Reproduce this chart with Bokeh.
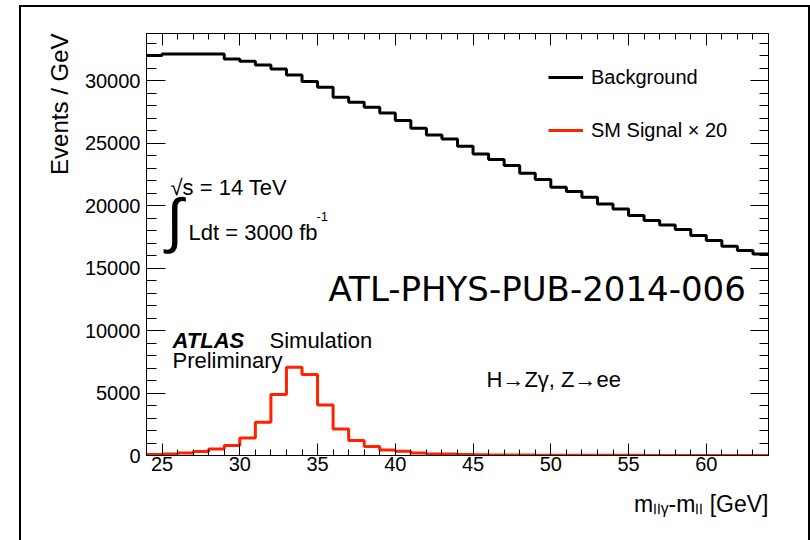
import math
import numpy as np
from bokeh.plotting import figure
from bokeh.models import (Range1d, LinearAxis, FixedTicker, Label, Legend, LegendItem,
                          CustomJSTickFormatter, Title)
from bokeh.embed import file_html
from bokeh.resources import INLINE

# ---------------- data ----------------
bin_edges = np.arange(24, 65, 1)          # 1 GeV bins, 24 .. 64 GeV
background = [32000, 32130, 32130, 32130, 32130, 31730, 31550, 31250, 30930, 30450,
              29920, 29470, 28670, 28270, 27870, 27410, 26800, 26190, 25650, 25330,
              24750, 24130, 23680, 23200, 22590, 22080, 21470, 21120, 20670, 20130,
              19730, 19200, 18800, 18450, 18080, 17600, 17200, 16750, 16400, 16130]
signal_x20 = [80, 130, 210, 320, 530, 800, 1410, 2670, 4880, 7070,
              6480, 4050, 2130, 1200, 720, 450, 350, 210, 130, 120,
              80, 60, 50, 40, 35, 30, 25, 20, 20, 15,
              15, 12, 10, 10, 8, 8, 6, 6, 5, 5]
x_ticks = [25, 30, 35, 40, 45, 50, 55, 60]
y_ticks = [0, 5000, 10000, 15000, 20000, 25000, 30000]
x_minor = list(np.arange(24, 65, 1))
y_minor = list(np.arange(0, 34000, 1000))
legend_labels = ["Background", "SM Signal \u00d7 20"]
x_title = "m\u2097\u2097\u1d67-m\u2097\u2097 [GeV]"
y_title = "Events / GeV"

# ---------------- geometry / style ----------------
FONT = "Liberation Sans"
RED = "#ff2200"
FL, FR, FT, FB = 146, 768, 33, 455      # frame in page pixels
ML, MT = 21, 7                           # figure offset in page
W = 808 - ML
H = 540 - MT

p = figure(width=W, height=H, x_range=Range1d(24, 64), y_range=Range1d(0, 33760),
           output_backend="svg", toolbar_location=None,
           min_border_left=FL - ML, min_border_right=W - (FR - ML),
           min_border_top=FT - MT, min_border_bottom=H - (FB - MT))
p.margin = (MT, 0, 0, ML)
p.styles = {"outline": "2px solid black"}
p.grid.visible = False
p.outline_line_color = "black"
p.outline_line_width = 1
p.background_fill_color = "white"
p.border_fill_color = "white"

xt = FixedTicker(ticks=x_ticks, minor_ticks=x_minor)
yt = FixedTicker(ticks=y_ticks, minor_ticks=y_minor)
blank = CustomJSTickFormatter(code="return ''")


def style_axis(ax, major, minor, labels=True, standoff=4):
    ax.major_tick_in = major
    ax.major_tick_out = 0
    ax.minor_tick_in = minor
    ax.minor_tick_out = 0
    ax.axis_line_color = "black"
    ax.major_tick_line_color = "black"
    ax.minor_tick_line_color = "black"
    ax.major_label_text_font = FONT
    ax.major_label_text_font_size = "20px"
    ax.major_label_text_color = "black"
    ax.major_label_standoff = standoff
    ax.axis_label = None
    if not labels:
        ax.formatter = blank


xa = p.xaxis[0]
xa.ticker = xt
style_axis(xa, 12, 6, True, 1)
ya = p.yaxis[0]
ya.ticker = yt
style_axis(ya, 19, 10, True, 6)

top = LinearAxis(ticker=xt)
style_axis(top, 12, 6, False)
p.add_layout(top, "above")
right = LinearAxis(ticker=yt)
style_axis(right, 18, 9, False)
p.add_layout(right, "right")

# axis titles (right / top aligned as in ROOT)
p.add_layout(Title(text=y_title, align="right", text_font=FONT, text_font_size="24px",
                   text_font_style="normal", text_color="black", standoff=17), "left")
p.add_layout(Title(text=x_title, align="right", text_font=FONT, text_font_size="23px",
                   text_font_style="normal", text_color="black", standoff=31), "below")

# ---------------- histograms ----------------
r_bg = p.step(x=bin_edges, y=background + [background[-1]], mode="after",
              line_color="black", line_width=3)
r_sig = p.step(x=bin_edges, y=signal_x20 + [signal_x20[-1]], mode="after",
               line_color=RED, line_width=3)

legend = Legend(items=[LegendItem(label=legend_labels[0], renderers=[r_bg]),
                       LegendItem(label=legend_labels[1], renderers=[r_sig])],
                location=(548 - FL, FB - 142))
legend.border_line_color = None
legend.background_fill_alpha = 0
legend.padding = 0
legend.margin = 0
legend.glyph_width = 35
legend.glyph_height = 24
legend.label_height = 24
legend.spacing = 29
legend.label_standoff = 8
legend.label_text_font = FONT
legend.label_text_font_size = "20px"
legend.label_text_color = "black"
p.add_layout(legend)


def lab(text, px, py, size, font=FONT, style="normal", align="left", angle=0.0,
        baseline="alphabetic"):
    p.add_layout(Label(x=px - FL, y=FB - py, x_units="screen", y_units="screen",
                       text=text, text_font=font, text_font_size=f"{size}px",
                       text_font_style=style, text_align=align, text_baseline=baseline,
                       angle=angle, text_color="black"))


lab("\u221as = 14 TeV", 170, 187, 22)
lab("\u222b", 166, 220, 60)
lab("Ldt = 3000 fb", 188, 232, 22)
lab("-1", 316, 216, 13)
lab("ATL-PHYS-PUB-2014-006", 328, 288, 34, font="DejaVu Sans")
lab("ATLAS", 172, 340, 22, style="bold italic")
lab("Simulation", 269, 340, 22)
lab("Preliminary", 172, 360, 22)
lab("H\u2192Z\u03b3, Z\u2192ee", 486, 379, 22)

open("out.html", "w").write(file_html(p, INLINE))
